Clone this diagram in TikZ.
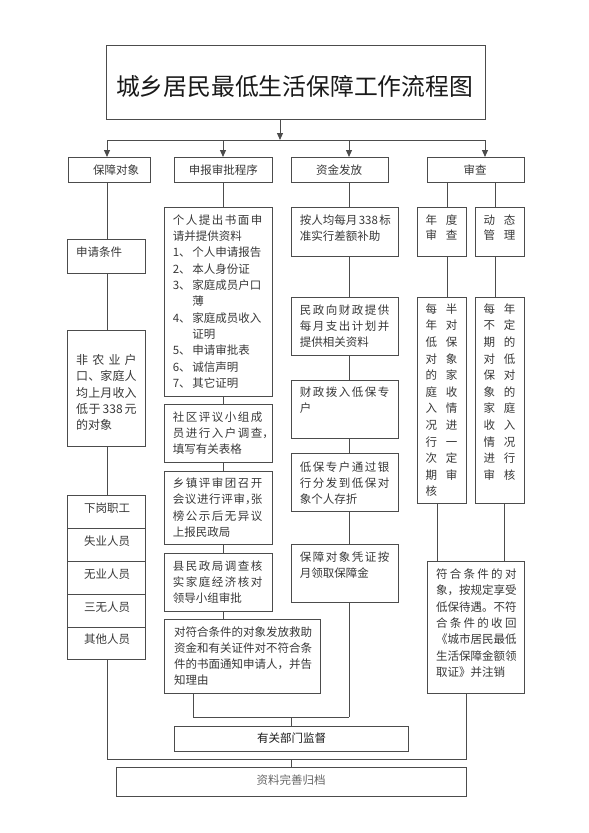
\documentclass[tikz,border=0pt]{standalone}
\usepackage{fontspec}
\setmainfont{Noto Sans CJK SC}
\usetikzlibrary{arrows.meta,calc}
\makeatletter
\count@="4E00
\loop\XeTeXcharclass\count@=1 \advance\count@ 1 \ifnum\count@<"A000 \repeat
\XeTeXcharclass"3001=3 \XeTeXcharclass"3002=3 \XeTeXcharclass"FF0C=3 \XeTeXcharclass"300B=3 \XeTeXcharclass"300A=2
\makeatother
\XeTeXinterchartokenstate=1
\XeTeXinterchartoks 1 1 = {\hskip 0pt plus 0.3em\relax}
\XeTeXinterchartoks 1 2 = {\hskip 0pt plus 0.3em\relax}
\XeTeXinterchartoks 3 1 = {\hskip 0pt plus 0.3em\relax}
\XeTeXinterchartoks 3 2 = {\hskip 0pt plus 0.3em\relax}
\XeTeXinterchartoks 1 3 = {\nobreak\hskip 0pt plus 0.3em\relax}
\newcommand\jline[1]{\makebox[\hsize][s]{#1}}
\newcommand\tstrut{\rule{0pt}{0.9em}}
\newcommand\itemlbl[1]{\makebox[19.5pt][l]{#1、}}
\newcommand\hcomma{\makebox[0.5em][l]{，}}
\newcommand\bx[5]{\node[box,anchor=north west,minimum width=#4pt-#2pt,minimum height=#5pt-#3pt] (#1) at (#2,#3) {};}
\begin{document}
\begin{tikzpicture}[x=1pt,y=-1pt,
  ln/.style={draw=black!70,line width=1pt},
  box/.style={draw=black!70,line width=1pt,inner sep=0pt,outer sep=0pt},
  txt/.style={inner sep=0pt,outer sep=0pt,anchor=north west,align=flush left,text=black!78,font=\fontsize{11.5}{16.3}\selectfont},
  sl/.style={inner sep=0pt,outer sep=0pt,anchor=base,text=black!78,font=\fontsize{11.5}{14}\selectfont},
  arr/.style={ln,-{Triangle[width=6pt,length=7pt]}}]
\useasboundingbox (0,0) rectangle (589,833);
% reference coordinates
\coordinate (bus) at (0,140);
\coordinate (xT) at (280,0);
\coordinate (xa) at (107,0);
\coordinate (xb) at (223,0);
\coordinate (xc) at (349,0);
\coordinate (xd) at (485,0);
\coordinate (xe) at (466,0);
\coordinate (xf) at (193,0);
\coordinate (xm) at (291,0);
\coordinate (xg) at (447,0);
\coordinate (xh) at (495,0);
\coordinate (xi) at (437,0);
\coordinate (xj) at (504,0);
\coordinate (ya) at (0,717);
\coordinate (yb) at (0,759);
% title
\bx{title}{106}{45}{485}{119}
\node[inner sep=0pt,anchor=base,font=\fontsize{23.8}{30}\selectfont,text=black!90] (titlet) at (294.5,95.8) {城乡居民最低生活保障工作流程图};
% headers
\bx{hd1}{68}{157}{150}{182}
\bx{hd2}{174}{157}{272}{182}
\bx{hd3}{291}{157}{388}{182}
\bx{hd4}{427}{157}{524}{182}
\node[sl] (hd1t) at (116,174.4) {保障对象};
\node[sl] (hd2t) at (223.3,174.4) {申报审批程序};
\node[sl] (hd3t) at (339.2,174.4) {资金发放};
\node[sl] (hd4t) at (475,174.4) {审查};
% column 1
\bx{sq}{67}{239}{145}{273}
\node[sl,anchor=base west] (sqt) at (76.2,256.1) {申请条件};
\bx{fn}{67}{330}{145}{446}
\node[txt,text width=60.5pt,font=\fontsize{12}{16.3}\selectfont] (fnt) at (76.2,353.8) {\tstrut\jline{非农业户}\\\jline{口、家庭人}\\\jline{均上月收入}\\\jline{低于\hspace{2pt}338\hspace{2pt}元}\\的对象};
\bx{la}{67}{495}{145}{528}
\bx{lb}{67}{528}{145}{561}
\bx{lc}{67}{561}{145}{594}
\bx{ld}{67}{594}{145}{627}
\bx{le}{67}{627}{145}{659}
\node[sl] (lat) at (107,512.4) {下岗职工};
\node[sl] (lbt) at (107,545.4) {失业人员};
\node[sl] (lct) at (107,578.4) {无业人员};
\node[sl] (ldt) at (107,611.4) {三无人员};
\node[sl] (let) at (107,643.4) {其他人员};
% column 2
\bx{gr}{164}{207}{272}{396}
\node[txt,text width=89.5pt] (grt) at (172.8,214) {\tstrut\jline{个人提出书面申}\\请并提供资料\\\itemlbl{1}个人申请报告\\\itemlbl{2}本人身份证\\\itemlbl{3}家庭成员户口\\\hspace*{19.5pt}薄\\\itemlbl{4}家庭成员收入\\\hspace*{19.5pt}证明\\\itemlbl{5}申请审批表\\\itemlbl{6}诚信声明\\\itemlbl{7}其它证明};
\bx{sqq}{164}{404}{272}{462}
\node[txt,text width=89.5pt] (sqqt) at (172.8,410.7) {\tstrut\jline{社区评议小组成}\\\jline{员进行入户调查}\makebox[0pt][l]{，}\\填写有关表格};
\bx{xz}{164}{471}{272}{544}
\node[txt,text width=89.5pt] (xzt) at (172.8,477.3) {\tstrut\jline{乡镇评审团召开}\\\jline{会议进行评审\hcomma 张}\\\jline{榜公示后无异议}\\上报民政局};
\bx{mz}{164}{553}{272}{611}
\node[txt,text width=89.5pt] (mzt) at (172.8,559.7) {\tstrut\jline{县民政局调查核}\\\jline{实家庭经济核对}\\领导小组审批};
\bx{dd}{164}{619}{320}{693}
\node[txt,text width=138pt] (ddt) at (174,625.7) {\tstrut\jline{对符合条件的对象发放救助}\\\jline{资金和有关证件对不符合条}\\\jline{件的书面通知申请人，并告}\\知理由};
% column 3
\bx{ar}{291}{207}{398}{256}
\node[txt,text width=89.5pt] (art) at (299.8,214) {\tstrut\jline{按人均每月\hspace{1.5pt}338\hspace{1.5pt}标}\\准实行差额补助};
\bx{cz}{291}{297}{398}{355}
\node[txt,text width=89.5pt] (czt) at (299.8,304) {\tstrut\jline{民政向财政提供}\\\jline{每月支出计划并}\\提供相关资料};
\bx{br}{291}{380}{398}{438}
\node[txt,text width=89.5pt] (brt) at (299.8,385.7) {\tstrut\jline{财政拨入低保专}\\户};
\bx{yh}{291}{453}{398}{511}
\node[txt,text width=89.5pt] (yht) at (299.8,460.7) {\tstrut\jline{低保专户通过银}\\\jline{行分发到低保对}\\象个人存折};
\bx{bz}{291}{544}{398}{602}
\node[txt,text width=89.5pt] (bzt) at (299.8,551.3) {\tstrut\jline{保障对象凭证按}\\月领取保障金};
% column 4
\bx{nd}{417}{207}{466}{256}
\node[txt,text width=32pt,font=\fontsize{11.5}{15.5}\selectfont] (ndt) at (425.5,214) {\tstrut\jline{年度}\\\jline{审查}};
\bx{dt}{475}{207}{524}{256}
\node[txt,text width=32pt,font=\fontsize{11.5}{15.5}\selectfont] (dtt) at (483.5,214) {\tstrut\jline{动态}\\\jline{管理}};
\bx{mb}{417}{297}{466}{503}
\node[txt,text width=32pt,font=\fontsize{11.5}{16.6}\selectfont] (mbt) at (425.5,303) {\tstrut\jline{每半}\\\jline{年对}\\\jline{低保}\\\jline{对象}\\\jline{的家}\\\jline{庭收}\\\jline{入情}\\\jline{况进}\\\jline{行一}\\\jline{次定}\\\jline{期审}\\核};
\bx{mn}{475}{297}{524}{503}
\node[txt,text width=32pt,font=\fontsize{11.5}{16.6}\selectfont] (mnt) at (483.5,303) {\tstrut\jline{每年}\\\jline{不定}\\\jline{期的}\\\jline{对低}\\\jline{保对}\\\jline{象的}\\\jline{家庭}\\\jline{收入}\\\jline{情况}\\\jline{进行}\\\jline{审核}};
\bx{fh}{427}{561}{524}{693}
\node[txt,text width=80.5pt] (fht) at (436,568.3) {\tstrut\jline{符合条件的对}\\\jline{象，按规定享受}\\\jline{低保待遇。不符}\\\jline{合条件的收回}\\\jline{《城市居民最低}\\\jline{生活保障金额领}\\取证》并注销};
% bottom
\bx{jd}{174}{726}{408}{751}
\node[sl,text=black!90] (jdt) at (291.5,742.9) {有关部门监督};
\bx{zl}{116}{767}{466}{796}
\node[sl,text=black!60] (zlt) at (291,784.4) {资料完善归档};
% connectors
\draw[arr] (title.south -| xT) -- (bus -| xT);
\draw[ln] (bus -| xa) -- (bus -| xd);
\draw[arr] (bus -| xa) -- (hd1.north -| xa);
\draw[arr] (bus -| xb) -- (hd2.north -| xb);
\draw[arr] (bus -| xc) -- (hd3.north -| xc);
\draw[arr] (bus -| xd) -- (hd4.north -| xd);
% col 1
\draw[ln] (hd1.south -| xa) -- (sq.north -| xa);
\draw[ln] (sq.south -| xa) -- (fn.north -| xa);
\draw[ln] (fn.south -| xa) -- (la.north -| xa);
\draw[ln] (le.south -| xa) -- (yb -| xa) -- (yb -| xe) -- (fh.south -| xe);
\draw[ln] (yb -| xm) -- (zl.north -| xm);
% col 2
\draw[ln] (hd2.south -| xb) -- (gr.north -| xb);
\draw[ln] (gr.south -| xb) -- (sqq.north -| xb);
\draw[ln] (sqq.south -| xb) -- (xz.north -| xb);
\draw[ln] (xz.south -| xb) -- (mz.north -| xb);
\draw[ln] (mz.south -| xb) -- (dd.north -| xb);
\draw[ln] (dd.south -| xf) -- (ya -| xf) -- (ya -| xc);
\draw[ln] (ya -| xm) -- (jd.north -| xm);
% col 3
\draw[ln] (hd3.south -| xc) -- (ar.north -| xc);
\draw[ln] (ar.south -| xc) -- (cz.north -| xc);
\draw[ln] (cz.south -| xc) -- (br.north -| xc);
\draw[ln] (br.south -| xc) -- (yh.north -| xc);
\draw[ln] (yh.south -| xc) -- (bz.north -| xc);
\draw[ln] (bz.south -| xc) -- (ya -| xc);
% col 4
\draw[ln] (hd4.south -| xg) -- (nd.north -| xg);
\draw[ln] (hd4.south -| xh) -- (dt.north -| xh);
\draw[ln] (nd.south -| xg) -- (mb.north -| xg);
\draw[ln] (dt.south -| xh) -- (mn.north -| xh);
\draw[ln] (mb.south -| xi) -- (fh.north -| xi);
\draw[ln] (mn.south -| xj) -- (fh.north -| xj);
\end{tikzpicture}
\end{document}
